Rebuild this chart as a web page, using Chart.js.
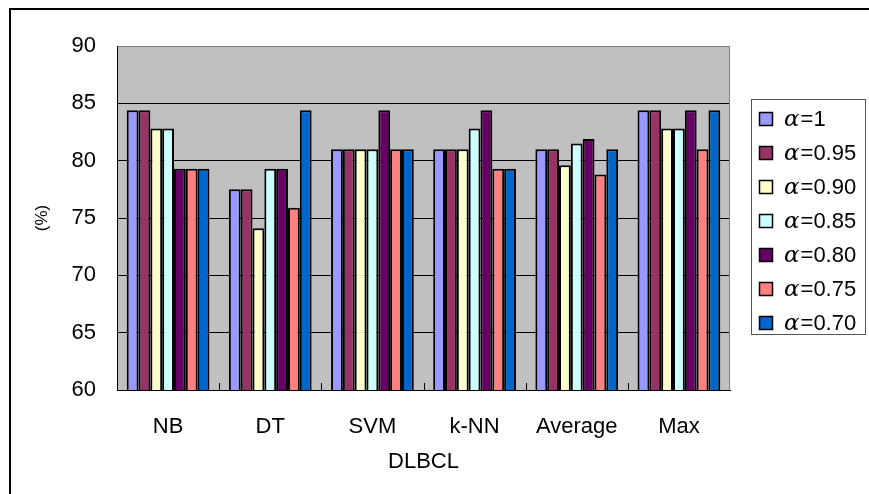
<!DOCTYPE html>
<html>
<head>
<meta charset="utf-8">
<script src="https://cdn.jsdelivr.net/npm/chart.js@4"></script>
<style>
  html, body { margin: 0; padding: 0; background: #fff; }
  #wrap { width: 869px; height: 494px; }
</style>
</head>
<body>
<div id="wrap"><canvas id="chart" width="869" height="494"></canvas></div>
<script>
// classifiers (x categories)
const categories = ['NB', 'DT', 'SVM', 'k-NN', 'Average', 'Max'];
const alphaLabels = ['1', '0.95', '0.90', '0.85', '0.80', '0.75', '0.70'];

// accuracy (%) per alpha, one value per category
const alpha100 = [84.4, 77.5, 81.0, 81.0, 81.0, 84.4];
const alpha095 = [84.4, 77.5, 81.0, 81.0, 81.0, 84.4];
const alpha090 = [82.8, 74.1, 81.0, 81.0, 79.6, 82.8];
const alpha085 = [82.8, 79.3, 81.0, 82.8, 81.5, 82.8];
const alpha080 = [79.3, 79.3, 84.4, 84.4, 81.9, 84.4];
const alpha075 = [79.3, 75.9, 81.0, 79.3, 78.8, 81.0];
const alpha070 = [79.3, 84.4, 81.0, 79.3, 81.0, 84.4];

const yTicks = [60, 65, 70, 75, 80, 85, 90];

const seriesValues = [alpha100, alpha095, alpha090, alpha085, alpha080, alpha075, alpha070];
const seriesColors = ['#9999FF', '#993366', '#FFFFCC', '#CCFFFF', '#660066', '#FF8080', '#0066CC'];

const FONT = '"Liberation Sans", Arial, sans-serif';

// gray plot area, frame, small category ticks and the boxed legend
const excelLook = {
    id: 'excelLook',
    beforeDraw(chart) {
        const { ctx, chartArea: a } = chart;
        ctx.save();
        ctx.fillStyle = '#C0C0C0';
        ctx.fillRect(a.left, a.top, a.right - a.left, a.bottom - a.top);
        ctx.restore();
    },
    afterDraw(chart) {
        const { ctx, chartArea: a } = chart;
        ctx.save();
        // right edge of plot area
        ctx.strokeStyle = '#808080';
        ctx.lineWidth = 1;
        ctx.beginPath();
        ctx.moveTo(a.right - 0.5, a.top);
        ctx.lineTo(a.right - 0.5, a.bottom);
        ctx.stroke();

        // tick marks between categories
        const xs = chart.scales.x;
        const step = (a.right - a.left) / categories.length;
        ctx.strokeStyle = '#000';
        ctx.beginPath();
        for (let i = 1; i < categories.length; i++) {
            const x = Math.round(xs.left + i * step) + 0.5;
            ctx.moveTo(x, a.bottom);
            ctx.lineTo(x, a.bottom - 7);
        }
        ctx.stroke();

        // outer chart frame (only left/top visible)
        ctx.lineWidth = 2;
        ctx.beginPath();
        ctx.moveTo(10, 494);
        ctx.lineTo(10, 9);
        ctx.lineTo(869, 9);
        ctx.stroke();

        // legend
        const lx = 751, ly = 99, lw = 114, lh = 235;
        ctx.fillStyle = '#fff';
        ctx.fillRect(lx, ly, lw, lh);
        ctx.strokeStyle = '#555';
        ctx.lineWidth = 1;
        ctx.strokeRect(lx + 0.5, ly + 0.5, lw, lh);
        chart.data.datasets.forEach((ds, i) => {
            const cy = 119 + i * 34;
            ctx.fillStyle = ds.backgroundColor;
            ctx.fillRect(759, cy - 7, 14, 14);
            ctx.strokeStyle = '#000';
            ctx.lineWidth = 1.5;
            ctx.strokeRect(759.5, cy - 6.5, 13, 13);
            ctx.fillStyle = '#000';
            ctx.textBaseline = 'middle';
            ctx.textAlign = 'left';
            ctx.font = 'italic 23px "DejaVu Serif", serif';
            ctx.fillText('\u03b1', 784, cy + 1);
            const w = ctx.measureText('\u03b1').width;
            ctx.font = '22px ' + FONT;
            ctx.fillText('=' + alphaLabels[i], 784 + w + 1, cy + 1);
        });
        ctx.restore();
    }
};

new Chart(document.getElementById('chart'), {
    type: 'bar',
    data: {
        labels: categories,
        datasets: seriesValues.map((vals, i) => ({
            label: '\u03b1=' + alphaLabels[i],
            data: vals,
            backgroundColor: seriesColors[i],
            borderColor: '#000',
            borderWidth: 2,
            categoryPercentage: 0.81,
            barPercentage: 1.0
        }))
    },
    options: {
        responsive: false,
        animation: false,
        layout: { padding: { left: 10, top: 46, right: 139, bottom: 0 } },
        plugins: {
            legend: { display: false },
            tooltip: { enabled: false },
            title: { display: false }
        },
        scales: {
            x: {
                grid: { display: true, drawOnChartArea: false, drawTicks: false, offset: true },
                border: { color: '#000', width: 1 },
                ticks: { color: '#000', font: { family: FONT, size: 22 }, padding: 24, maxRotation: 0 },
                title: {
                    display: true, text: 'DLBCL', color: '#000',
                    font: { family: FONT, size: 22 }, padding: { top: 0, bottom: 19 }
                },
                afterFit(scale) { scale.height = 104; }
            },
            y: {
                min: 60, max: 90,
                afterBuildTicks(scale) { scale.ticks = yTicks.map(v => ({ value: v })); },
                grid: {
                    drawTicks: false,
                    color: ctx => (ctx.tick && ctx.tick.value === 90) ? '#808080' : '#000',
                    lineWidth: 1
                },
                border: { color: '#000', width: 1 },
                ticks: { color: '#000', font: { family: FONT, size: 22 }, padding: 21 },
                title: {
                    display: true, text: '(%)', color: '#000',
                    font: { family: FONT, size: 17 }, padding: { top: 22, bottom: 0 }
                },
                afterFit(scale) { scale.width = 107; }
            }
        }
    },
    plugins: [excelLook]
});
</script>
</body>
</html>
